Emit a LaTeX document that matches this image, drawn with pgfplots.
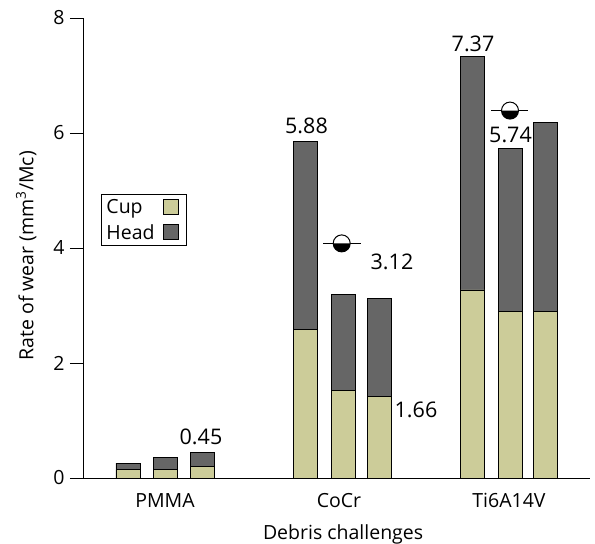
\documentclass[border=0pt]{standalone}
\usepackage{fontspec}
\setmainfont{Open Sans}
\usepackage{pgfplots}
\pgfplotsset{compat=1.18}
\definecolor{cupc}{RGB}{204,204,153}
\definecolor{headc}{RGB}{102,102,102}
\pgfdeclareplotmark{hmoon}{%
  \pgfpathcircle{\pgfpointorigin}{\pgfplotmarksize}%
  \pgfsetfillcolor{white}\pgfusepath{fill}%
  \pgfpathmoveto{\pgfpoint{-\pgfplotmarksize}{0pt}}%
  \pgfpatharc{180}{360}{\pgfplotmarksize}%
  \pgfpathclose
  \pgfsetfillcolor{black}\pgfusepath{fill}%
  \pgfpathcircle{\pgfpointorigin}{\pgfplotmarksize}%
  \pgfusepath{stroke}}
\begin{document}
\begin{tikzpicture}
\begin{axis}[
  at={(83pt,66pt)}, anchor=south west,
  scale only axis, width=507pt, height=460pt,
  xmin=83, xmax=590, ymin=0, ymax=8,
  axis x line*=bottom, axis y line*=left,
  axis line style={line width=0.9pt},
  ytick={0,2,4,6,8},
  xtick={165,339,509}, xticklabels={PMMA,CoCr,Ti6A14V},
  x tick style={draw=none},
  y tick style={black, line width=0.9pt},
  tick align=outside, major tick length=13pt,
  /pgf/number format/assume math mode=true,
  tick label style={font=\fontsize{19.5}{22}\selectfont},
  yticklabel style={xshift=-2pt},
  xticklabel style={yshift=1pt},
  label style={font=\fontsize{19.5}{22}\selectfont},
  xlabel={Debris challenges},
  ylabel={Rate of wear (mm\textsuperscript{3}/Mc)},
  xlabel style={anchor=center, at={(axis description cs:0.513,-0.122)}},
  ylabel style={anchor=center, at={(axis description cs:-0.112,0.483)}},
  legend plot pos=right, legend cell align=left,
  reverse legend,
  legend style={at={(axis description cs:0.0355,0.617)}, anchor=north west,
    draw=black, line width=0.9pt, font=\fontsize{19.5}{22}\selectfont,
    inner xsep=3pt, inner ysep=3pt, row sep=5pt,
    nodes={inner sep=2pt}},
  legend image code/.code={\path[draw=none,fill=none] (0pt,0pt) -- (27pt,0pt);
    \draw[#1,draw=black,line width=0.9pt] (7pt,-7.5pt) rectangle (22pt,7.5pt);},
]
\addplot[ybar, bar width=24, bar shift=0pt, fill=headc, draw=black, line width=0.9pt]
  coordinates {(128,0.26) (165,0.36) (202,0.45)
               (305.5,5.85) (343,3.19) (379,3.12)
               (472.5,7.33) (510,5.73) (545,6.19)};
\addlegendentry{Head}
\addplot[ybar, bar width=24, bar shift=0pt, fill=cupc, draw=black, line width=0.9pt]
  coordinates {(128,0.14) (165,0.15) (202,0.20)
               (305.5,2.59) (343,1.53) (379,1.41)
               (472.5,3.27) (510,2.90) (545,2.90)};
\addlegendentry{Cup}
\addplot[forget plot, black, line width=1pt] coordinates {(323,4.08) (361,4.08)};
\addplot[forget plot, black, line width=1pt] coordinates {(491,6.39) (528,6.39)};
\addplot[forget plot, only marks, mark=hmoon, mark size=8.5pt, mark options={line width=1pt, draw=black}]
  coordinates {(341.7,4.08) (510,6.39)};
\node[font=\fontsize{21.5}{24}\selectfont] at (axis cs:201,0.713) {0.45};
\node[font=\fontsize{21.5}{24}\selectfont] at (axis cs:306.5,6.13) {5.88};
\node[font=\fontsize{21.5}{24}\selectfont] at (axis cs:392,3.757) {3.12};
\node[font=\fontsize{21.5}{24}\selectfont] at (axis cs:416,1.19) {1.66};
\node[font=\fontsize{21.5}{24}\selectfont] at (axis cs:473,7.548) {7.37};
\node[font=\fontsize{21.5}{24}\selectfont] at (axis cs:510.5,5.965) {5.74};
\end{axis}
\pgfresetboundingbox
\path[use as bounding box] (0,0) rectangle (595pt,544pt);
\end{tikzpicture}
\end{document}
